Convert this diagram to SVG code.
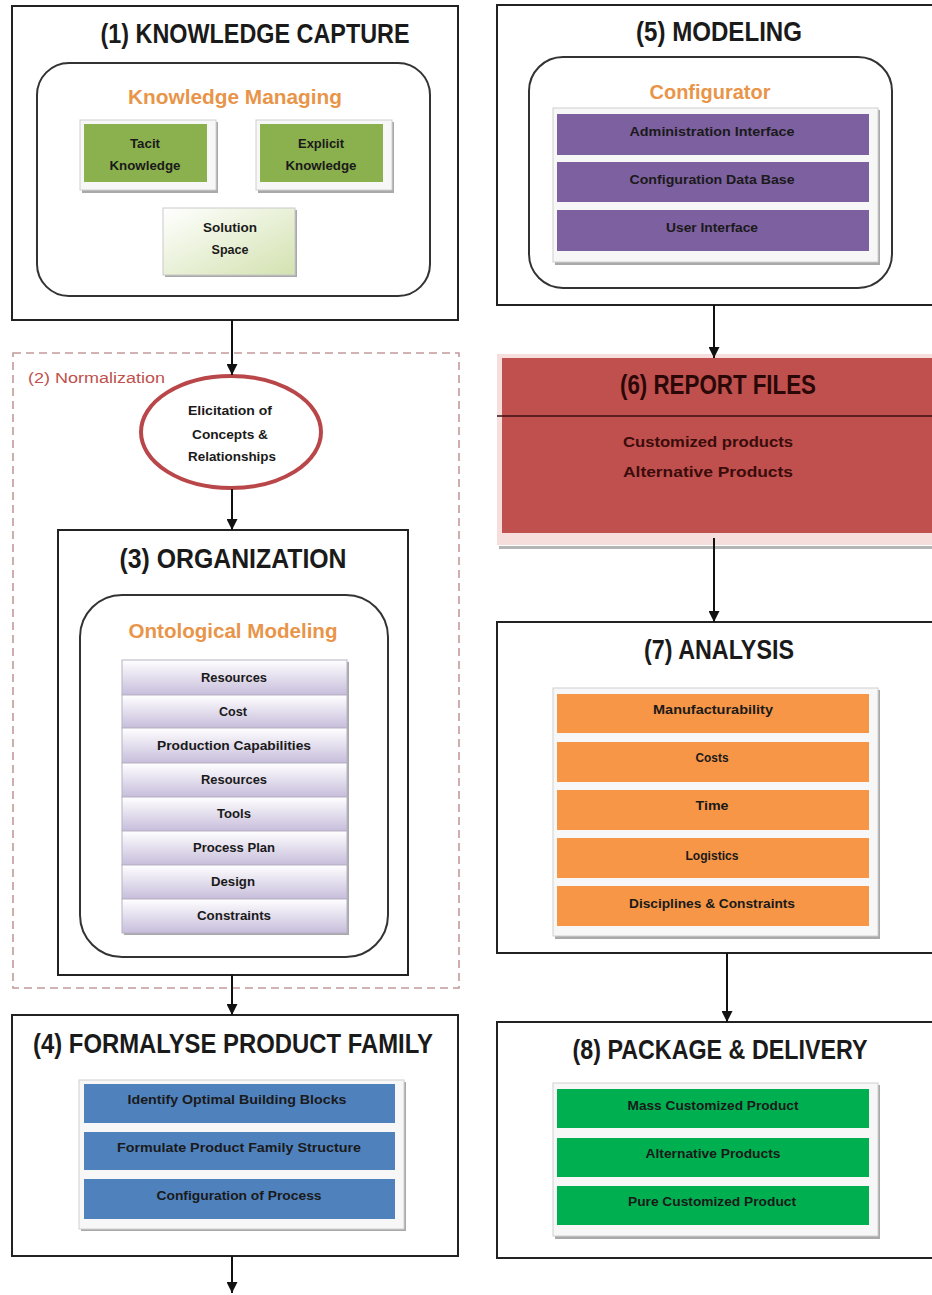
<svg xmlns="http://www.w3.org/2000/svg" width="932" height="1295" viewBox="0 0 932 1295">
  <defs>
    <style>
      .frame { fill: #ffffff; stroke: #222222; stroke-width: 2; }
      .inner { fill: #ffffff; stroke: #333333; stroke-width: 2; }
      .title { font-family: "Liberation Sans", Arial, sans-serif; font-weight: bold; font-size: 27px; fill: #1a1a1a; text-anchor: middle; }
      .sub { font-family: "Liberation Sans", Arial, sans-serif; font-weight: bold; font-size: 21px; fill: #E8954A; text-anchor: middle; }
      .lbl { font-family: "Liberation Sans", Arial, sans-serif; font-weight: bold; font-size: 12px; fill: #1a1a1a; text-anchor: middle; }
      .card { fill: #f7f7f7; stroke: #d0d0d0; stroke-width: 1; }
      .cardshadow { fill: #a9a9a9; }
      .purple { fill: #7D60A0; }
      .orange { fill: #F79646; }
      .blue { fill: #4F81BD; }
      .green { fill: #00B050; }
      .kgreen { fill: #8BB04E; }
      .onto { fill: url(#ontoGrad); stroke: #b8b2c6; stroke-width: 1; }
      .conn { stroke: #111111; stroke-width: 2; fill: none; marker-end: url(#arrow); }
    </style>
    <marker id="arrow" viewBox="0 0 10 10" refX="10" refY="5" markerWidth="5.5" markerHeight="5.5" orient="auto" markerUnits="strokeWidth">
      <path d="M0,0 L10,5 L0,10 Z" fill="#111111"/>
    </marker>
    <linearGradient id="ontoGrad" x1="0" y1="0" x2="0" y2="1">
      <stop offset="0" stop-color="#ffffff"/>
      <stop offset="1" stop-color="#c7bddb"/>
    </linearGradient>
    <linearGradient id="solGrad" x1="0" y1="0" x2="1" y2="1">
      <stop offset="0" stop-color="#ffffff"/>
      <stop offset="1" stop-color="#d3e2b0"/>
    </linearGradient>
  </defs>

  <!-- (2) Normalization: dashed region behind step 3 -->
  <g id="normalization">
    <rect x="13" y="353" width="446" height="635" fill="#ffffff" stroke="#c49a9a" stroke-width="1.6" stroke-dasharray="8 5"/>
    <text x="28" y="383" font-family="Liberation Sans, Arial, sans-serif" font-size="14" fill="#C0504D" textLength="137" lengthAdjust="spacingAndGlyphs">(2) Normalization</text>
  </g>

  <!-- (1) Knowledge capture -->
  <g id="knowledge-capture">
    <rect class="frame" x="12" y="6" width="446" height="314"/>
    <text class="title" x="255" y="43" textLength="309" lengthAdjust="spacingAndGlyphs">(1)  KNOWLEDGE CAPTURE</text>
    <rect class="inner" x="37" y="63" width="393" height="233" rx="32"/>
    <text class="sub" x="235" y="104" textLength="214" lengthAdjust="spacingAndGlyphs">Knowledge Managing</text>
    <g id="tacit-knowledge">
      <rect class="cardshadow" x="82" y="122" width="136" height="71"/>
      <rect class="card" x="80" y="120" width="136" height="70"/>
      <rect class="kgreen" x="84" y="124" width="123" height="58"/>
      <text class="lbl" x="145" y="148" textLength="30" lengthAdjust="spacingAndGlyphs">Tacit</text>
      <text class="lbl" x="145" y="170" textLength="71" lengthAdjust="spacingAndGlyphs">Knowledge</text>
    </g>
    <g id="explicit-knowledge">
      <rect class="cardshadow" x="258" y="122" width="136" height="71"/>
      <rect class="card" x="256" y="120" width="136" height="70"/>
      <rect class="kgreen" x="260" y="124" width="123" height="58"/>
      <text class="lbl" x="321" y="148" textLength="46" lengthAdjust="spacingAndGlyphs">Explicit</text>
      <text class="lbl" x="321" y="170" textLength="71" lengthAdjust="spacingAndGlyphs">Knowledge</text>
    </g>
    <g id="solution-space">
      <rect class="cardshadow" x="165" y="210" width="132" height="67"/>
      <rect x="163" y="208" width="132" height="67" fill="url(#solGrad)" stroke="#c9c9c9" stroke-width="1"/>
      <text class="lbl" x="230" y="232" textLength="54" lengthAdjust="spacingAndGlyphs">Solution</text>
      <text class="lbl" x="230" y="254" textLength="37" lengthAdjust="spacingAndGlyphs">Space</text>
    </g>
  </g>

  <!-- Elicitation step inside normalization -->
  <g id="elicitation">
    <ellipse cx="231" cy="432" rx="90" ry="56" fill="#ffffff" stroke="#B9474A" stroke-width="4"/>
    <text class="lbl" x="230" y="415" textLength="84" lengthAdjust="spacingAndGlyphs">Elicitation of</text>
    <text class="lbl" x="230" y="439" textLength="76" lengthAdjust="spacingAndGlyphs">Concepts  &amp;</text>
    <text class="lbl" x="232" y="461" textLength="88" lengthAdjust="spacingAndGlyphs">Relationships</text>
  </g>

  <!-- (3) Organization -->
  <g id="organization">
    <rect class="frame" x="58" y="530" width="350" height="445"/>
    <text class="title" x="233" y="568" textLength="227" lengthAdjust="spacingAndGlyphs">(3) ORGANIZATION</text>
    <rect class="inner" x="80" y="595" width="308" height="362" rx="42"/>
    <text class="sub" x="233" y="638" textLength="209" lengthAdjust="spacingAndGlyphs">Ontological Modeling</text>
    <rect x="124" y="662" width="225" height="273" fill="#a9a9a9"/>
    <rect class="onto" x="122" y="660" width="225" height="35"/>
    <rect class="onto" x="122" y="695" width="225" height="33"/>
    <rect class="onto" x="122" y="728" width="225" height="35"/>
    <rect class="onto" x="122" y="763" width="225" height="34"/>
    <rect class="onto" x="122" y="797" width="225" height="34"/>
    <rect class="onto" x="122" y="831" width="225" height="34"/>
    <rect class="onto" x="122" y="865" width="225" height="34"/>
    <rect class="onto" x="122" y="899" width="225" height="34"/>
    <text class="lbl" x="234" y="682" textLength="66" lengthAdjust="spacingAndGlyphs">Resources</text>
    <text class="lbl" x="233" y="716" textLength="28" lengthAdjust="spacingAndGlyphs">Cost</text>
    <text class="lbl" x="234" y="750" textLength="154" lengthAdjust="spacingAndGlyphs">Production  Capabilities</text>
    <text class="lbl" x="234" y="784" textLength="66" lengthAdjust="spacingAndGlyphs">Resources</text>
    <text class="lbl" x="234" y="818" textLength="34" lengthAdjust="spacingAndGlyphs">Tools</text>
    <text class="lbl" x="234" y="852" textLength="82" lengthAdjust="spacingAndGlyphs">Process Plan</text>
    <text class="lbl" x="233" y="886" textLength="44" lengthAdjust="spacingAndGlyphs">Design</text>
    <text class="lbl" x="234" y="920" textLength="74" lengthAdjust="spacingAndGlyphs">Constraints</text>
  </g>

  <!-- (4) Formalyse product family -->
  <g id="formalyse-product-family">
    <rect class="frame" x="12" y="1015" width="446" height="241"/>
    <text class="title" x="233" y="1053" textLength="400" lengthAdjust="spacingAndGlyphs">(4) FORMALYSE  PRODUCT  FAMILY</text>
    <rect class="cardshadow" x="81" y="1082" width="325" height="149"/>
    <rect class="card" x="79" y="1080" width="325" height="149"/>
    <rect class="blue" x="84" y="1084" width="311" height="39"/>
    <rect class="blue" x="84" y="1132" width="311" height="38"/>
    <rect class="blue" x="84" y="1179" width="311" height="40"/>
    <text class="lbl" x="237" y="1104" textLength="219" lengthAdjust="spacingAndGlyphs">Identify Optimal  Building  Blocks</text>
    <text class="lbl" x="239" y="1152" textLength="244" lengthAdjust="spacingAndGlyphs">Formulate Product  Family Structure</text>
    <text class="lbl" x="239" y="1200" textLength="165" lengthAdjust="spacingAndGlyphs">Configuration  of Process</text>
  </g>

  <!-- (5) Modeling -->
  <g id="modeling">
    <rect class="frame" x="497" y="5" width="445" height="300"/>
    <text class="title" x="719" y="41" textLength="166" lengthAdjust="spacingAndGlyphs">(5) MODELING</text>
    <rect class="inner" x="529" y="57" width="363" height="231" rx="34"/>
    <text class="sub" x="710" y="99" textLength="121" lengthAdjust="spacingAndGlyphs">Configurator</text>
    <rect class="cardshadow" x="555" y="110" width="325" height="155"/>
    <rect class="card" x="553" y="108" width="325" height="154"/>
    <rect class="purple" x="557" y="114" width="312" height="41"/>
    <rect class="purple" x="557" y="162" width="312" height="40"/>
    <rect class="purple" x="557" y="210" width="312" height="41"/>
    <text class="lbl" x="712" y="136" textLength="165" lengthAdjust="spacingAndGlyphs">Administration  Interface</text>
    <text class="lbl" x="712" y="184" textLength="165" lengthAdjust="spacingAndGlyphs">Configuration  Data Base</text>
    <text class="lbl" x="712" y="232" textLength="92" lengthAdjust="spacingAndGlyphs">User Interface</text>
  </g>

  <!-- (6) Report files -->
  <g id="report-files">
    <rect x="499" y="546" width="445" height="3" fill="#b5b5b5"/>
    <rect x="497" y="354" width="445" height="191" fill="#F6DEDD"/>
    <rect x="502" y="358" width="440" height="175" fill="#C0504D"/>
    <line x1="497" y1="416" x2="942" y2="416" stroke="#3a1010" stroke-width="1.6"/>
    <text class="title" x="718" y="394" textLength="196" lengthAdjust="spacingAndGlyphs" style="fill:#2a0808">(6) REPORT FILES</text>
    <text x="623" y="447" font-family="Liberation Sans, Arial, sans-serif" font-weight="bold" font-size="15" fill="#3a0c0c" textLength="170" lengthAdjust="spacingAndGlyphs">Customized products</text>
    <text x="623" y="477" font-family="Liberation Sans, Arial, sans-serif" font-weight="bold" font-size="15" fill="#3a0c0c" textLength="170" lengthAdjust="spacingAndGlyphs">Alternative Products</text>
  </g>

  <!-- (7) Analysis -->
  <g id="analysis">
    <rect class="frame" x="497" y="622" width="445" height="331"/>
    <text class="title" x="719" y="659" textLength="150" lengthAdjust="spacingAndGlyphs">(7) ANALYSIS</text>
    <rect class="cardshadow" x="555" y="690" width="325" height="249"/>
    <rect class="card" x="553" y="688" width="325" height="248"/>
    <rect class="orange" x="557" y="694" width="312" height="39"/>
    <rect class="orange" x="557" y="742" width="312" height="40"/>
    <rect class="orange" x="557" y="790" width="312" height="40"/>
    <rect class="orange" x="557" y="838" width="312" height="40"/>
    <rect class="orange" x="557" y="886" width="312" height="40"/>
    <text class="lbl" x="713" y="714" textLength="120" lengthAdjust="spacingAndGlyphs">Manufacturability</text>
    <text class="lbl" x="712" y="762" textLength="33" lengthAdjust="spacingAndGlyphs">Costs</text>
    <text class="lbl" x="712" y="810" textLength="33" lengthAdjust="spacingAndGlyphs">Time</text>
    <text class="lbl" x="712" y="860" textLength="53" lengthAdjust="spacingAndGlyphs">Logistics</text>
    <text class="lbl" x="712" y="908" textLength="166" lengthAdjust="spacingAndGlyphs">Disciplines  &amp;  Constraints</text>
  </g>

  <!-- (8) Package and delivery -->
  <g id="package-delivery">
    <rect class="frame" x="497" y="1022" width="445" height="236"/>
    <text class="title" x="720" y="1059" textLength="295" lengthAdjust="spacingAndGlyphs">(8) PACKAGE &amp; DELIVERY</text>
    <rect class="cardshadow" x="555" y="1085" width="325" height="154"/>
    <rect class="card" x="553" y="1083" width="325" height="153"/>
    <rect class="green" x="557" y="1089" width="312" height="39"/>
    <rect class="green" x="557" y="1138" width="312" height="39"/>
    <rect class="green" x="557" y="1186" width="312" height="39"/>
    <text class="lbl" x="713" y="1110" textLength="171" lengthAdjust="spacingAndGlyphs">Mass Customized  Product</text>
    <text class="lbl" x="713" y="1158" textLength="135" lengthAdjust="spacingAndGlyphs">Alternative Products</text>
    <text class="lbl" x="712" y="1206" textLength="168" lengthAdjust="spacingAndGlyphs">Pure Customized  Product</text>
  </g>

  <!-- Connectors -->
  <g id="connectors">
    <line class="conn" x1="232" y1="320" x2="232" y2="375"/>
    <line class="conn" x1="232" y1="489" x2="232" y2="530"/>
    <line class="conn" x1="232" y1="975" x2="232" y2="1015"/>
    <line class="conn" x1="232" y1="1256" x2="232" y2="1293"/>
    <line class="conn" x1="714" y1="305" x2="714" y2="358"/>
    <line class="conn" x1="714" y1="538" x2="714" y2="622"/>
    <line class="conn" x1="727" y1="953" x2="727" y2="1022"/>
  </g>
</svg>
